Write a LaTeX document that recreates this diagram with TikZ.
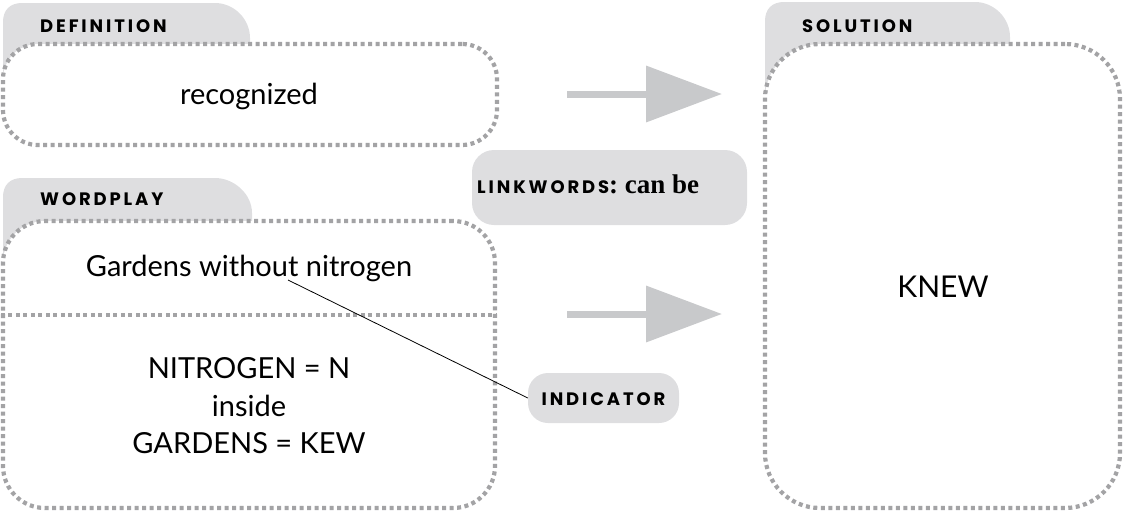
\documentclass[tikz,border=0pt]{standalone}
\usepackage{fontspec}
\setmainfont{Lato}
\newfontfamily\labelfont[LetterSpace=16]{Poppins}
\newfontfamily\serifb{Liberation Serif}
\usetikzlibrary{arrows.meta}
\definecolor{tabgrey}{HTML}{DEDEE0}
\definecolor{dotgrey}{HTML}{A3A3A5}
\definecolor{arrowgrey}{HTML}{C8C9CB}
\begin{document}
\begin{tikzpicture}[x=1pt,y=-1pt,
  dotbox/.style={draw=dotgrey, fill=white, line width=4.2pt, dash pattern=on 4pt off 3.5pt, inner sep=0pt},
  dotline/.style={draw=dotgrey, line width=4.2pt, dash pattern=on 4pt off 3.5pt},
  tabshape/.style={fill=tabgrey},
  lbl/.style={font=\labelfont\bfseries\fontsize{18}{18}\selectfont, anchor=base west, inner sep=0pt},
  body/.style={font=\fontsize{29}{29}\selectfont, anchor=base, inner sep=0pt},
  bigarrow/.style={draw=arrowgrey, line width=7pt, -{Triangle[length=76pt,width=55pt]}},
  pill/.style={fill=tabgrey, rounded corners=22, inner sep=0pt}
]
\useasboundingbox (0,0) rectangle (1123,514);
% tabs
\fill[tabshape] (3,80) -- (3,22) .. controls (3,10) and (10,3) .. (22,3) -- (215,3) .. controls (234,3) and (250,19) .. (250,38) -- (250,80) -- cycle;
\fill[tabshape] (3,255) -- (3,197) .. controls (3,185) and (10,178) .. (22,178) -- (215,178) .. controls (234,178) and (252,194) .. (252,213) -- (252,255) -- cycle;
\fill[tabshape] (765,120) -- (765,21) .. controls (765,9) and (772,2) .. (784,2) -- (975,2) .. controls (994,2) and (1010,18) .. (1010,37) -- (1010,120) -- cycle;
% boxes
\node[dotbox, rounded corners=35, minimum width=494pt, minimum height=101pt] (defbox) at (250,94.5) {};
\node[dotbox, rounded corners=42, minimum width=492pt, minimum height=287pt] (wpbox) at (249,364.5) {};
\node[dotbox, rounded corners=55, minimum width=355pt, minimum height=464pt] (solbox) at (942.5,276) {};
\draw[dotline] (wpbox.west |- 0,315) -- (wpbox.east |- 0,315);
% labels
\node[lbl] (deflbl) at (40,32) {DEFINITION};
\node[lbl] (wplbl) at (40,205) {WORDPLAY};
\node[lbl] (sollbl) at (802,32) {SOLUTION};
% body text
\node[body] (deftext) at (249,104) {recognized};
\node[body] (clue) at (249,276) {Gardens without nitrogen};
\node[body] (w1) at (249,378) {NITROGEN = N};
\node[body] (w2) at (249,416) {inside};
\node[body] (w3) at (249,453) {GARDENS = KEW};
\node[body, font=\fontsize{30}{30}\selectfont] (sol) at (943,297) {KNEW};
% pills
\node[pill, minimum width=275pt, minimum height=75pt] (link) at (609.5,187.5) {};
\node[anchor=base west, inner sep=0pt] (linktext) at (477,193) {{\labelfont\bfseries\fontsize{18}{18}\selectfont LINKWORDS}{\serifb\bfseries\fontsize{27}{27}\selectfont: can be}};
\node[pill, rounded corners=20, minimum width=151pt, minimum height=50pt] (ind) at (603.5,398) {};
\node[lbl, anchor=base] (indtext) at (ind.center |- 0,405) {INDICATOR};
% connector
\coordinate (cs) at (288,280);
\draw[line width=0.8pt] (cs) -- (ind.west);
% arrows
\coordinate (a1s) at (567,94);
\coordinate (a1e) at (722,94);
\coordinate (a2s) at (567,314);
\coordinate (a2e) at (722,314);
\draw[bigarrow] (a1s) -- (a1e);
\draw[bigarrow] (a2s) -- (a2e);
\end{tikzpicture}
\end{document}
